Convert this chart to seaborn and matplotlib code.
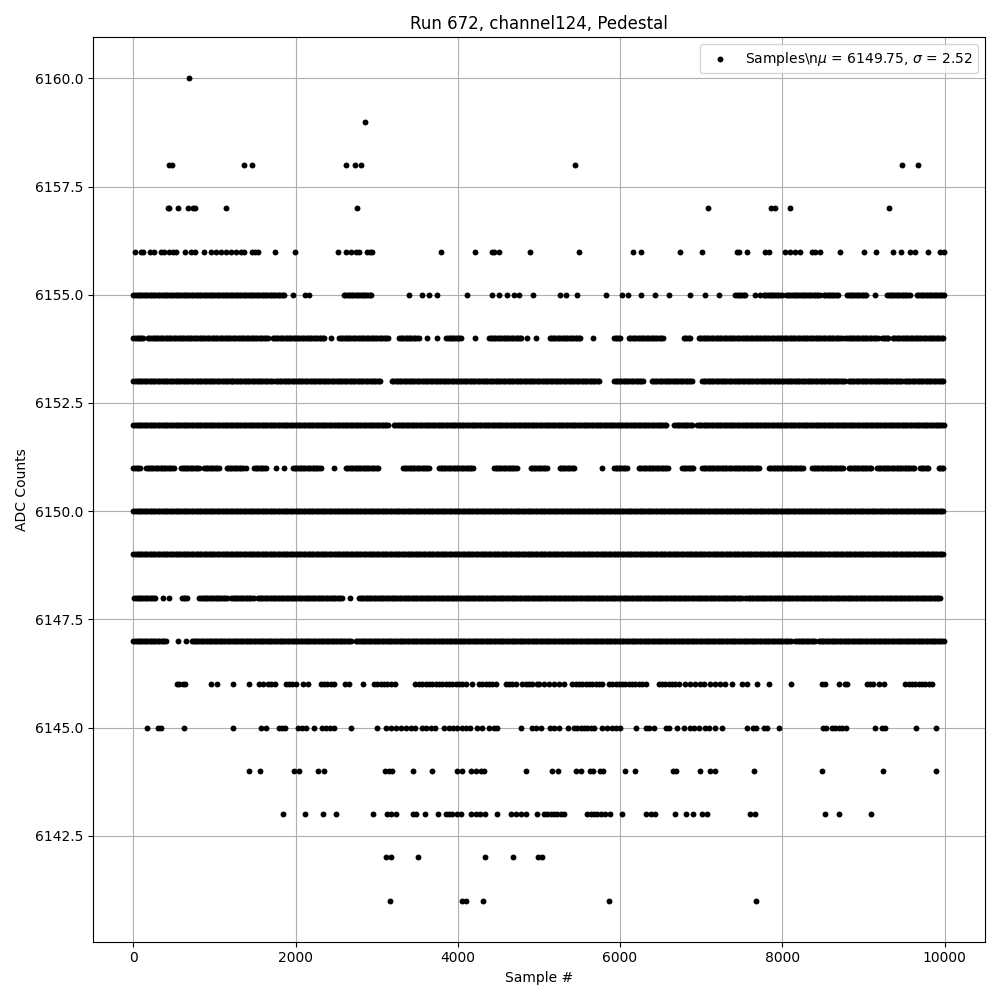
import numpy as np
import pandas as pd
import matplotlib
matplotlib.use("Agg")
import matplotlib.pyplot as plt
import seaborn as sns

title = "Run 672, channel124, Pedestal"
x_label = "Sample #"
y_label = "ADC Counts"
legend_label = r"Samples\n$\mu$ = 6149.75, $\sigma$ = 2.52"

# ---- sparse levels: sample indices ----
pts_6160 = [690]
pts_6159 = [2857]
pts_6158 = [443, 476, 1367, 1457, 2623, 2734, 2804, 5447, 9474, 9667]
pts_6157 = [427, 443, 546, 669, 730, 764, 1137, 2763, 7085, 7861, 7915, 8095, 9310]
pts_6156 = [16, 95, 123, 206, 259, 341, 382, 443, 484, 526, 637, 711, 764, 866, 957,
            1018, 1080, 1142, 1203, 1265, 1326, 1367, 1457, 1499, 1531, 1749, 1995,
            2525, 2620, 2681, 2743, 2783, 2886, 2915, 2948, 3797, 4212, 4417, 4446,
            4507, 4889, 5497, 6162, 6260, 6745, 7012, 7442, 7463, 7565, 7792, 7833,
            8038, 8100, 8161, 8223, 8366, 8407, 8469, 8715, 9011, 9159, 9364, 9466,
            9577, 9631, 9795, 9947, 9988]
pts_6146 = [534, 566, 607, 640, 957, 1026, 1223, 1429, 1552, 1601, 1654, 1695, 1749,
            1880, 1921, 1962, 2004, 2094, 2159, 2311, 2352, 2393, 2435, 2475, 2611,
            2660, 2836, 2968, 3009, 3050, 3091, 3132, 3173, 3227, 3473, 3522, 3563,
            3605, 3645, 3686, 3727, 3768, 3809, 3851, 3892, 3933, 3974, 4015, 4056,
            4097, 4179, 4261, 4302, 4344, 4384, 4425, 4467, 4590, 4631, 4672, 4713,
            4795, 4836, 4877, 4918, 4979, 5000, 5062, 5123, 5185, 5246, 5308, 5411,
            5452, 5493, 5534, 5575, 5616, 5657, 5698, 5739, 5780, 5862, 5903, 5944,
            5985, 6026, 6067, 6108, 6149, 6190, 6231, 6272, 6314, 6478, 6519, 6560,
            6601, 6642, 6683, 6724, 6806, 6868, 6930, 6991, 7032, 7114, 7176, 7238,
            7299, 7381, 7504, 7565, 7689, 7841, 8107, 8489, 8522, 8695, 8768, 8797,
            9043, 9085, 9113, 9195, 9249, 9516, 9557, 9598, 9639, 9680, 9722, 9763,
            9803, 9844]
pts_6145 = [164, 300, 341, 620, 1223, 1572, 1634, 1790, 1831, 1872, 2036, 2077, 2127,
            2229, 2324, 2373, 2422, 2475, 2689, 3009, 3112, 3173, 3235, 3297, 3358,
            3420, 3473, 3563, 3612, 3666, 3716, 3830, 3892, 3941, 3994, 4048, 4097,
            4147, 4241, 4302, 4384, 4446, 4487, 4783, 4918, 4959, 5021, 5131, 5185,
            5246, 5361, 5431, 5472, 5514, 5554, 5595, 5637, 5677, 5780, 5841, 5903,
            5952, 5994, 6199, 6314, 6363, 6416, 6568, 6609, 6696, 6786, 6868, 6909,
            6970, 7053, 7094, 7176, 7258, 7565, 7635, 7677, 7771, 7812, 7956, 8498,
            8538, 8612, 8654, 8695, 8735, 8785, 9138, 9228, 9269, 9647, 9893]
pts_6144 = [1420, 1564, 1983, 2044, 2282, 2352, 3103, 3153, 3194, 3452, 3678, 3994,
            4048, 4159, 4220, 4282, 4323, 4836, 5156, 5238, 5452, 5514, 5624, 5665,
            5747, 5788, 6067, 6182, 6650, 6691, 6983, 7114, 7167, 7648, 8489, 9240,
            9893]
pts_6143 = [1851, 2114, 2340, 2496, 2960, 3132, 3173, 3243, 3448, 3481, 3596, 3760,
            3851, 3892, 3933, 3994, 4036, 4167, 4220, 4270, 4331, 4487, 4651, 4713,
            4775, 4836, 4979, 5062, 5103, 5144, 5185, 5225, 5267, 5308, 5595, 5637,
            5677, 5718, 5760, 5813, 5874, 6018, 6322, 6376, 6437, 6675, 6814, 6900,
            7012, 7073, 7599, 7669, 8530, 8695, 9092]
pts_6142 = [3112, 3173, 3514, 4334, 4684, 4990, 5035]
pts_6141 = [3170, 4050, 4100, 4310, 5862, 7675]

# ---- dense levels: runs of samples (start, end) ----
runs_6155 = [(0, 1860), (1970, 1970), (2118, 2118), (2167, 2167), (2594, 2947),
             (3399, 3399), (3563, 3563), (3645, 3645), (3748, 3748), (4117, 4117),
             (4417, 4417), (4507, 4507), (4610, 4610), (4692, 4692), (4754, 4754),
             (4926, 4926), (5255, 5255), (5337, 5337), (5472, 5472), (5829, 5829),
             (6018, 6018), (6100, 6100), (6261, 6261), (6429, 6429), (6601, 6601),
             (6868, 6868), (7053, 7053), (7217, 7217), (7422, 7545), (7668, 7668),
             (7730, 7730), (7771, 7997), (8046, 8469), (8510, 8695), (8797, 9043),
             (9146, 9146), (9290, 9577), (9659, 9999)]
runs_6154 = [(0, 135), (177, 1675), (1716, 2373), (2434, 2434), (2537, 3153),
             (3276, 3522), (3625, 3625), (3748, 3748), (3859, 4056), (4208, 4208),
             (4384, 4795), (4857, 4857), (4959, 4959), (5131, 5513), (5665, 5665),
             (5924, 6006), (6108, 6539), (6786, 6868), (6970, 8735), (8777, 9187),
             (9228, 9310), (9363, 9999)]
runs_6153 = [(0, 1220), (1232, 1720), (1745, 3050), (3185, 5760), (5924, 6293),
             (6388, 6897), (7012, 8785), (8817, 9483), (9507, 9999)]
runs_6152 = [(0, 3150), (3210, 6580), (6670, 6900), (6950, 9999)]
runs_6151 = [(0, 95), (156, 505), (587, 813), (874, 1059), (1149, 1367), (1388, 1388),
             (1490, 1634), (1757, 1757), (1860, 1860), (1970, 2311), (2475, 2475),
             (2619, 3030), (3325, 3645), (3768, 4200), (4446, 4733), (4897, 5103),
             (5255, 5452), (5780, 5780), (5924, 6088), (6232, 6601), (6765, 6909),
             (7012, 7730), (7833, 8264), (8366, 8756), (8818, 9105), (9168, 9639),
             (9700, 9803), (9926, 9999)]
runs_6150 = [(0, 9999)]
runs_6149 = [(0, 9999)]
runs_6148 = [(12, 279), (369, 369), (443, 443), (599, 669), (813, 1162), (1203, 1490),
             (1531, 2578), (2668, 2668), (2783, 7504), (7545, 9950)]
runs_6147 = [(0, 402), (546, 546), (649, 649), (723, 2701), (2742, 8120), (8161, 8407),
             (8448, 9999)]

sparse = {6160: pts_6160, 6159: pts_6159, 6158: pts_6158, 6157: pts_6157,
          6156: pts_6156, 6146: pts_6146, 6145: pts_6145, 6144: pts_6144,
          6143: pts_6143, 6142: pts_6142, 6141: pts_6141}
dense = {6155: runs_6155, 6154: runs_6154, 6153: runs_6153, 6152: runs_6152,
         6151: runs_6151, 6150: runs_6150, 6149: runs_6149, 6148: runs_6148,
         6147: runs_6147}

xs, ys = [], []
for lvl, pts in sparse.items():
    xs += list(pts)
    ys += [lvl] * len(pts)
for lvl, runs in dense.items():
    for a, b in runs:
        seg = list(range(a, b + 1, 20)) if b > a else [a]
        xs += seg
        ys += [lvl] * len(seg)

df = pd.DataFrame({"sample": xs, "adc": ys})

fig, ax = plt.subplots(figsize=(10, 10), dpi=100)
sns.scatterplot(data=df, x="sample", y="adc", color="black", s=18, linewidth=0,
                label=legend_label, ax=ax, zorder=3)
ax.set_title(title)
ax.set_xlabel(x_label)
ax.set_ylabel(y_label)
ax.grid(True, color="#b0b0b0", linewidth=0.8)
ax.set_axisbelow(True)
ax.legend(loc="upper right")
fig.tight_layout()
fig.savefig("out.png", dpi=100)
